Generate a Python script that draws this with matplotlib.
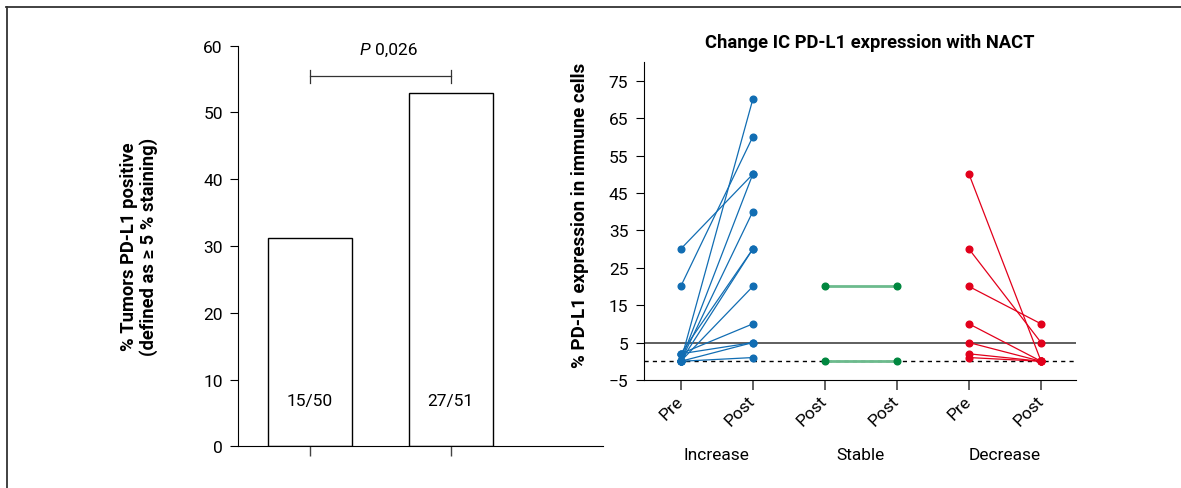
import matplotlib
matplotlib.use("Agg")
import matplotlib.pyplot as plt
from matplotlib.lines import Line2D
import matplotlib.transforms as mtransforms

plt.rcParams['font.family'] = ['Roboto', 'DejaVu Sans']

# ---- data ----
bar_values = [31.2, 52.9]
bar_labels = ["15/50", "27/51"]
p_text = "0,026"

inc_pre = [30, 20, 0, 0, 0, 0, 2, 0, 2, 2, 0, 0]
inc_post = [50, 60, 70, 50, 40, 30, 30, 20, 10, 5, 5, 1]
stable_pre = [20, 0]
stable_post = [20, 0]
dec_pre = [50, 30, 20, 10, 5, 2, 1]
dec_post = [0, 5, 10, 0, 0, 0, 0]

xtick_labels = ["Pre", "Post", "Post", "Post", "Pre", "Post"]
groups = ["Increase", "Stable", "Decrease"]
left_yticks = [0, 10, 20, 30, 40, 50, 60]
right_yticks = [-5, 5, 15, 25, 35, 45, 55, 65, 75]

blue = '#116db3'
green_dot = '#00873f'
green_line = '#6cbb8d'
red = '#e2001b'

FS = 12.5

W, H = 1181, 489
fig = plt.figure(figsize=(W / 100, H / 100), dpi=100)

# figure border (top and left)
fig.add_artist(Line2D([6 / W, 1], [1 - 8 / H, 1 - 8 / H], transform=fig.transFigure, color='#333333', lw=1.3))
fig.add_artist(Line2D([7 / W, 7 / W], [0, 1 - 8 / H], transform=fig.transFigure, color='#333333', lw=1.3))

# ---- left bar chart ----
axL = fig.add_axes([238 / W, 1 - 447.3 / H, (603 - 238) / W, (447.3 - 46.7) / H])
xs = [0, 1]
axL.bar(xs, bar_values, width=0.6, color='white', edgecolor='black', linewidth=1.0)
axL.set_xlim(-0.51, 2.08)
axL.set_ylim(0, 60)
axL.set_yticks(left_yticks)
axL.set_xticks(xs)
axL.set_xticklabels([])
axL.spines['top'].set_visible(False)
axL.spines['right'].set_visible(False)
axL.tick_params(axis='y', direction='out', length=6, width=0.8, labelsize=FS, pad=5)
axL.tick_params(axis='x', direction='out', length=7, width=1.0, color='#444444')
for x, v, lab in zip(xs, bar_values, bar_labels):
    axL.text(x, 6.8, lab, ha='center', va='center', fontsize=FS)
# significance bracket
axL.plot([0, 1], [55.4, 55.4], color='#333333', lw=0.9, clip_on=False)
axL.plot([0, 0], [54.4, 56.4], color='#333333', lw=0.9, clip_on=False)
axL.plot([1, 1], [54.4, 56.4], color='#333333', lw=0.9, clip_on=False)
axL.text(0.43, 59.4, "P", style='italic', ha='right', va='center', fontsize=FS, clip_on=False)
axL.text(0.46, 59.4, p_text, ha='left', va='center', fontsize=FS, clip_on=False)
axL.set_ylabel("% Tumors PD-L1 positive\n(defined as \u2265 5 % staining)", fontsize=13.2,
               fontweight='bold', linespacing=1.1)
axL.yaxis.set_label_coords((158 - 238) / (603 - 238), 0.5)

# ---- right paired chart ----
axR = fig.add_axes([644.3 / W, 1 - 381 / H, (1075.7 - 644.3) / W, (381 - 63) / H])
axR.set_xlim(-0.505, 5.48)
axR.set_ylim(-5, 80)
axR.axhline(5, color='#333333', lw=1.1, zorder=1)
axR.axhline(0, color='black', lw=1.0, ls=(0, (3, 3)), zorder=1)

for a, b in zip(inc_pre, inc_post):
    axR.plot([0, 1], [a, b], color=blue, lw=0.9, marker='o', ms=4.8, zorder=3)
for a, b in zip(stable_pre, stable_post):
    axR.plot([2, 3], [a, b], color=green_line, lw=2.0, zorder=2)
    axR.plot([2, 3], [a, b], ls='none', marker='o', ms=4.8, color=green_dot, zorder=3)
for a, b in zip(dec_pre, dec_post):
    axR.plot([4, 5], [a, b], color=red, lw=0.9, marker='o', ms=4.8, zorder=3)

axR.set_yticks(right_yticks)
axR.set_xticks(range(6))
axR.set_xticklabels(xtick_labels, rotation=45, ha='right', va='center', rotation_mode='anchor', fontsize=FS)
axR.spines['top'].set_visible(False)
axR.spines['right'].set_visible(False)
axR.tick_params(axis='y', direction='out', length=6, width=0.8, labelsize=FS, pad=5.5)
axR.tick_params(axis='x', direction='out', length=7, width=1.3, color='#555555', pad=6)
trans = mtransforms.blended_transform_factory(axR.transData, axR.transAxes)
for i, g in enumerate(groups):
    axR.text(2 * i + 0.5, -75 / 318, g, ha='center', va='center', fontsize=FS, transform=trans)
axR.set_ylabel("% PD-L1 expression in immune cells", fontsize=13.5, fontweight='bold')
axR.yaxis.set_label_coords((589 - 644.3) / (1075.7 - 644.3), (381 - 215) / 318)
fig.text(870 / W, 1 - 43 / H, "Change IC PD-L1 expression with NACT", ha='center', va='center',
         fontsize=13.2, fontweight='bold')

fig.savefig("out.png", dpi=100)
